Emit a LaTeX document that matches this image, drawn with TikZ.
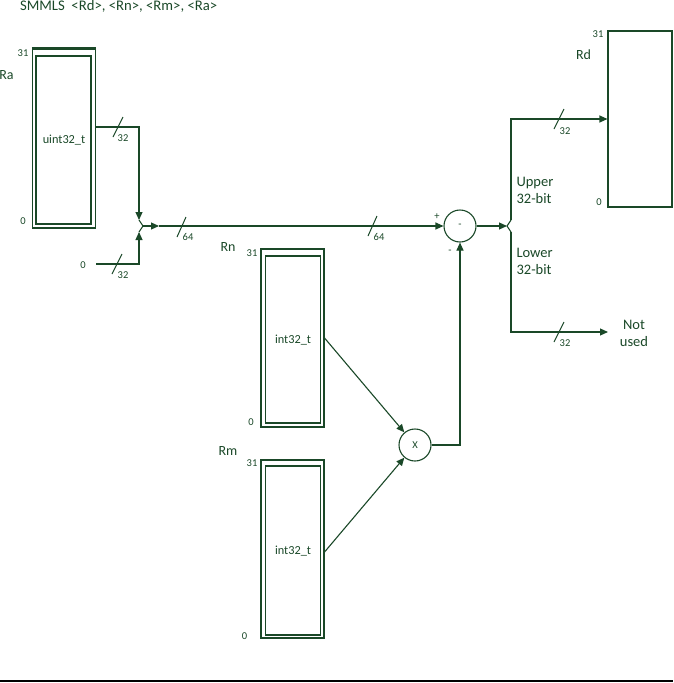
\documentclass[tikz,border=0pt]{standalone}
\usepackage{fontspec}
\setmainfont{Carlito}
\usetikzlibrary{arrows.meta,calc}
\definecolor{dg}{RGB}{26,72,40}
\begin{document}
\begin{tikzpicture}[x=1pt,y=-1pt,color=dg,line width=1.1pt,
  outerbox/.style={draw,minimum width=63pt,inner sep=0pt},
  innerbox/.style={draw,minimum width=55pt,inner sep=0pt},
  tiny/.style={font=\fontsize{10.5}{12}\selectfont,inner sep=0pt},
  small/.style={font=\fontsize{12.3}{14}\selectfont,inner sep=0pt},
  mid/.style={font=\fontsize{14}{16}\selectfont,inner sep=0pt},
  big/.style={font=\fontsize{14.5}{17}\selectfont,inner sep=0pt,align=left},
  op/.style={draw,circle,minimum size=32pt,inner sep=0pt,font=\fontsize{10.5}{12}\selectfont},
  arr/.style={-{Triangle[length=8pt,width=7pt]}},
  tick/.style={line width=1pt}]
\useasboundingbox (0,0) rectangle (673,683);

% title
\node[anchor=base west,font=\fontsize{14.7}{17}\selectfont,inner sep=0pt] (title) at (19.5,10.5) {SMMLS\ \ <Rd>, <Rn>, <Rm>, <Ra>};

% Ra
\node[outerbox,minimum height=179pt] (RaO) at (64,138.5) {};
\node[innerbox,minimum height=168pt] (RaI) at (63.5,140) {};
\draw[line width=2pt] (RaO.north west) -- (RaO.north east);
\node[small] (RaT) at (64,140) {uint32\_t};
\node[mid] (RaL) at (6.5,75) {Ra};
\node[tiny] (Ra31) at (23,53) {31};
\node[tiny] (Ra0) at (23,221) {0};

% Rn
\node[outerbox,minimum height=178pt] (RnO) at (292.5,338) {};
\node[innerbox,minimum height=167pt] (RnI) at (293,339.5) {};
\node[small] (RnT) at (293,340) {int32\_t};
\node[mid] (RnL) at (228,247.5) {Rn};
\node[tiny] (Rn31) at (252,253) {31};
\node[tiny] (Rn0) at (251,422) {0};

% Rm
\node[outerbox,minimum height=178pt] (RmO) at (292.5,549) {};
\node[innerbox,minimum height=169pt] (RmI) at (293,550.5) {};
\node[small] (RmT) at (293,551) {int32\_t};
\node[mid] (RmL) at (228,451) {Rm};
\node[tiny] (Rm31) at (252,463) {31};
\node[tiny] (Rm0) at (244.5,636.5) {0};

% Rd
\node[draw,minimum width=64pt,minimum height=176pt,inner sep=0pt] (Rd) at (640,119) {};
\node[mid] (RdL) at (583.5,54.5) {Rd};
\node[tiny] (Rd31) at (598,34) {31};
\node[tiny] (Rd0) at (599,202) {0};

% operators
\node[op] (sub) at (460,226) {-};
\node[op] (mul) at (415,445) {X};
\node[tiny] (plus) at (437,217) {+};
\node[tiny] (minus) at (450,252) {-};

% left junction
\coordinate (jtop) at (139,220);
\coordinate (jbot) at (139,232);
\coordinate (jL) at (143,226);
\coordinate (jA) at (159,226);
\coordinate (raout) at (96,127);
\node[tiny] (zero) at (83,265) {0};
\coordinate (zout) at (96,264);
\draw[arr] (raout) -- (raout -| jtop) -- (jtop);
\draw[arr] (zout) -- (zout -| jbot) -- (jbot);
\draw (jtop) -- (jL) -- (jbot);
\draw[arr] (jL) -- (jA);
\draw[arr] (jA) -- (sub.west);

% ticks left
\draw[tick] (113,137) -- (123,117);
\node[tiny] (l32a) at (123,138.5) {32};
\draw[tick] (112,274) -- (122,254);
\node[tiny] (l32b) at (123,275) {32};
\draw[tick] (177,237) -- (186,217);
\node[tiny] (l64a) at (188,237) {64};
\draw[tick] (368,236) -- (377,216);
\node[tiny] (l64b) at (379,237) {64};

% multiplier
\draw[arr] (RnO.east) -- (mul);
\draw[arr] ($(RmO.east)+(0,3)$) -- (mul);
\draw[arr] (mul.east) -- (mul.east -| sub.south) -- (sub.south);

% right junction
\coordinate (rL) at (507,226);
\coordinate (rtop) at (511,220);
\coordinate (rbot) at (511,232);
\coordinate (rUp) at (511,119);
\coordinate (rDn) at (511,332);
\coordinate (nu) at (608,332);
\draw[arr] (sub.east) -- (rL);
\draw (rtop) -- (rL) -- (rbot);
\draw[arr] (rtop) -- (rUp) -- (Rd.west);
\draw[arr] (rbot) -- (rDn) -- (nu);
\node[big,anchor=west] (upper) at (516,190.5) {Upper\\32-bit};
\node[big,anchor=west] (lower) at (516,261.5) {Lower\\32-bit};
\node[big,align=center] (notused) at (634,333) {Not\\used};

% ticks right
\draw[tick] (554,129) -- (564,109);
\node[tiny] (r32a) at (565,131) {32};
\draw[tick] (554,342) -- (564,322);
\node[tiny] (r32b) at (565,343) {32};

% bottom rule
\draw[black,line width=2pt] (0,681) -- (673,681);
\end{tikzpicture}
\end{document}
